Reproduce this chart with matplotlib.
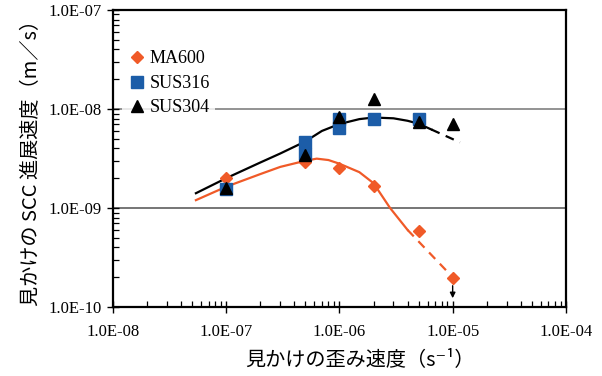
import matplotlib
matplotlib.use("Agg")
import matplotlib.pyplot as plt
from matplotlib.ticker import LogLocator, FuncFormatter, NullFormatter

# measured points
ma600_x = [1e-7, 5e-7, 1e-6, 2e-6, 5e-6, 1e-5]
ma600_y = [2.0e-9, 2.9e-9, 2.55e-9, 1.67e-9, 5.9e-10, 1.97e-10]

sus316_x = [1e-7, 5e-7, 5e-7, 1e-6, 1e-6, 2e-6, 5e-6]
sus316_y = [1.55e-9, 4.6e-9, 3.5e-9, 7.9e-9, 6.4e-9, 7.9e-9, 7.9e-9]

sus304_x = [1e-7, 5e-7, 1e-6, 2e-6, 5e-6, 1e-5]
sus304_y = [1.6e-9, 3.4e-9, 8.3e-9, 1.26e-8, 7.4e-9, 7.0e-9]

# trend curves
fit304_x = [5.4e-8, 1e-7, 2e-7, 3e-7, 5e-7, 7e-7, 1e-6, 1.5e-6, 2e-6, 3e-6, 4e-6, 5e-6, 6.5e-6]
fit304_y = [1.41e-9, 2.0e-9, 2.88e-9, 3.55e-9, 4.7e-9, 6.0e-9, 7.05e-9, 7.9e-9, 8.2e-9, 8.05e-9, 7.6e-9, 7.1e-9, 6.2e-9]
fit304_dash_x = [6.5e-6, 1.16e-5]
fit304_dash_y = [6.2e-9, 4.6e-9]

fit600_x = [5.4e-8, 1e-7, 2e-7, 3e-7, 5e-7, 6.3e-7, 8e-7, 1e-6, 1.5e-6, 2e-6, 2.8e-6, 4e-6]
fit600_y = [1.2e-9, 1.64e-9, 2.2e-9, 2.6e-9, 3.0e-9, 3.15e-9, 3.05e-9, 2.8e-9, 2.3e-9, 1.78e-9, 1.0e-9, 6.0e-10]
fit600_dash_x = [4e-6, 1e-5]
fit600_dash_y = [6.0e-10, 2.0e-10]

orange = "#F05A28"
blue = "#1C5DA8"

plt.rcParams['font.family'] = ['Liberation Serif', 'DejaVu Serif']
jp = ['Noto Sans CJK JP', 'DejaVu Sans']

fig = plt.figure(figsize=(6.02, 3.76), dpi=100)
ax = fig.add_axes([0.1877, 0.1835, 0.7523, 0.79])

ax.set_xscale('log')
ax.set_yscale('log')
ax.set_xlim(1e-8, 1e-4)
ax.set_ylim(1e-10, 1e-7)

ax.axhline(1e-8, color='#8a8a8a', lw=1.3, zorder=1)
ax.axhline(1e-9, color='#6a6a6a', lw=1.3, zorder=1)

ax.plot(fit304_x, fit304_y, color='black', lw=1.6, zorder=2)
ax.plot(fit304_dash_x, fit304_dash_y, color='black', lw=1.6, ls=(0, (4, 3)), zorder=2)
ax.plot(fit600_x, fit600_y, color=orange, lw=1.6, zorder=2)
ax.plot(fit600_dash_x, fit600_dash_y, color=orange, lw=1.6, ls=(0, (4, 3)), zorder=2)

ax.plot(ma600_x, ma600_y, 'D', color=orange, ms=6.5, ls='none', label='MA600', zorder=3)
ax.plot(sus316_x, sus316_y, 's', color=blue, ms=8, ls='none', label='SUS316', zorder=4)
ax.plot(sus304_x, sus304_y, '^', color='black', ms=8, ls='none', label='SUS304', zorder=5)

ax.annotate('', xy=(1e-5, 1.15e-10), xytext=(1e-5, 1.75e-10),
            arrowprops=dict(arrowstyle='-|>', color='black', lw=1, mutation_scale=8))

leg = ax.legend(loc='upper left', bbox_to_anchor=(0.0, 0.91), frameon=True,
                fontsize=13, handletextpad=0.1, handlelength=1.2,
                borderpad=0.25, labelspacing=0.42, fancybox=False)
leg.get_frame().set_edgecolor('none')
leg.get_frame().set_facecolor('white')
leg.set_zorder(6)

fmt = FuncFormatter(lambda v, p: "{:.1E}".format(v))
ax.xaxis.set_major_formatter(fmt)
ax.yaxis.set_major_formatter(fmt)
ax.xaxis.set_minor_formatter(NullFormatter())
ax.yaxis.set_minor_formatter(NullFormatter())
ax.xaxis.set_minor_locator(LogLocator(base=10, subs=range(2, 10)))
ax.yaxis.set_minor_locator(LogLocator(base=10, subs=range(2, 10)))

ax.tick_params(which='major', direction='inout', length=8, width=1, labelsize=12, pad=4)
ax.tick_params(which='minor', direction='in', length=4, width=0.9)
ax.tick_params(axis='x', which='major', pad=8)

for s in ax.spines.values():
    s.set_linewidth(1.6)

ax.set_ylabel('見かけの SCC 進展速度（m／s）', family=jp, fontsize=14.5, labelpad=5)
ax.set_xlabel('見かけの歪み速度（s⁻¹）', family=jp, fontsize=14.5)
ax.xaxis.set_label_coords(0.545, -0.14)

fig.savefig('out.png', dpi=100)
